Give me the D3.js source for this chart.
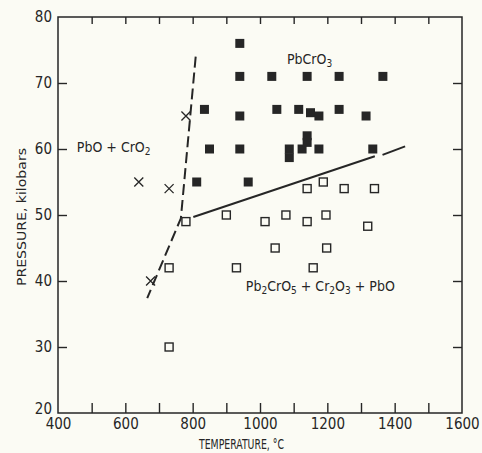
<!DOCTYPE html>
<html>
<head>
<meta charset="utf-8">
<script src="https://cdn.jsdelivr.net/npm/d3@7"></script>
<style>
  body { margin: 0; background: #fbfbf4; }
  svg { display: block; }
  text { font-family: "DejaVu Sans Condensed", "Liberation Sans Narrow", "DejaVu Sans", sans-serif; fill: #262626; }
</style>
</head>
<body>
<svg></svg>
<script>
const width = 482;
const height = 453;

const svg = d3.select("svg")
  .attr("width", width)
  .attr("height", height);

// [temperature °C, pressure kbar]
const pbcro3 = [
  [940, 76],
  [940, 71], [1035, 71], [1140, 71], [1235, 71], [1365, 71],
  [835, 66], [940, 65], [1050, 66], [1115, 66], [1150, 65.5], [1175, 65],
  [1235, 66], [1315, 65],
  [850, 60], [940, 60], [1087, 60], [1087, 58.7], [1125, 60], [1140, 62],
  [1140, 61], [1175, 60], [1335, 60],
  [812, 55], [965, 55]
];

const decomposed = [
  [730, 30], [730, 42], [780, 49], [900, 50], [930, 42], [1015, 49],
  [1045, 45], [1077, 50], [1140, 49], [1140, 54], [1188, 55], [1196, 50],
  [1198, 45], [1158, 42], [1250, 54], [1340, 54], [1320, 48.3]
];

const pboCro2 = [
  [640, 55], [730, 54], [780, 65], [675, 40]
];

const dashedBoundary = [[809, 74], [765, 49.5], [665, 37.4]];
const solidBoundary = [[802, 49.7], [1341, 58.9]];
const solidTail = [[1364, 59.1], [1431, 60.4]];

const xLabelTicks = [400, 600, 800, 1000, 1200, 1400, 1600];
const xMinorTicks = [500, 600, 700, 800, 900, 1000, 1100, 1200, 1300, 1400, 1500];
const yLabelTicks = [20, 30, 40, 50, 60, 70, 80];
const yMinorTicks = [30, 40, 50, 60, 70];

// text pieces: [string, isSubscript]
const phaseLabels = [
  { t: 1080, p: 72.9, parts: [["PbCrO", 0], ["3", 1]] },
  { t: 456, p: 59.6, parts: [["PbO + CrO", 0], ["2", 1]] },
  { t: 958, p: 38.5, parts: [["Pb", 0], ["2", 1], ["CrO", 0], ["5", 1], [" + Cr", 0], ["2", 1], ["O", 0], ["3", 1], [" + PbO", 0]] }
];

const x = d3.scaleLinear().domain([400, 1600]).range([58, 462]);
const y = d3.scaleLinear().domain([20, 80]).range([413, 17]);

const ink = "#262626";

// frame
svg.append("rect")
  .attr("x", x(400))
  .attr("y", y(80))
  .attr("width", x(1600) - x(400))
  .attr("height", y(20) - y(80))
  .attr("fill", "none")
  .attr("stroke", ink)
  .attr("stroke-width", 1.5);

// inward ticks on all four sides
const tickGroups = [
  { axis: d3.axisBottom(x).tickValues(xMinorTicks).tickSize(-10), at: `translate(0,${y(20)})` },
  { axis: d3.axisTop(x).tickValues(xMinorTicks).tickSize(-7), at: `translate(0,${y(80)})` },
  { axis: d3.axisLeft(y).tickValues(yMinorTicks).tickSize(-9), at: `translate(${x(400)},0)` },
  { axis: d3.axisRight(y).tickValues(yMinorTicks).tickSize(-9), at: `translate(${x(1600)},0)` }
];

tickGroups.forEach(g => {
  const sel = svg.append("g")
    .attr("transform", g.at)
    .call(g.axis.tickFormat(""));
  sel.select(".domain").remove();
  sel.selectAll("line").attr("stroke", ink).attr("stroke-width", 1.4);
});

// tick labels
const xAxis = svg.append("g")
  .attr("transform", `translate(0,${y(20)})`)
  .call(d3.axisBottom(x).tickValues(xLabelTicks).tickSize(0).tickPadding(5).tickFormat(d3.format("d")));
xAxis.select(".domain").remove();
xAxis.selectAll("text").attr("font-size", 15).style("fill", ink);

const yAxis = svg.append("g")
  .attr("transform", `translate(${x(400)},0)`)
  .call(d3.axisLeft(y).tickValues(yLabelTicks).tickSize(0).tickPadding(6));
yAxis.select(".domain").remove();
yAxis.selectAll("text").attr("font-size", 15).style("fill", ink);
// the bottom "20" sits a little above its tick so it clears "400"
yAxis.selectAll("text").filter(d => d === 20).attr("dy", "0.05em");

// axis titles
svg.append("text")
  .attr("x", 199)
  .attr("y", 449)
  .attr("font-size", 14)
  .attr("textLength", 85)
  .attr("lengthAdjust", "spacingAndGlyphs")
  .text("TEMPERATURE, °C");

svg.append("text")
  .attr("transform", `translate(26,${(y(20) + y(80)) / 2 + 2}) rotate(-90)`)
  .attr("text-anchor", "middle")
  .attr("font-size", 13)
  .attr("textLength", 138)
  .attr("lengthAdjust", "spacingAndGlyphs")
  .text("PRESSURE, kilobars");

// phase boundaries
const line = d3.line().x(d => x(d[0])).y(d => y(d[1]));

svg.append("path")
  .attr("d", line(dashedBoundary))
  .attr("fill", "none")
  .attr("stroke", ink)
  .attr("stroke-width", 2)
  .attr("stroke-dasharray", "11 5");

[solidBoundary, solidTail].forEach(seg => {
  svg.append("path")
    .attr("d", line(seg))
    .attr("fill", "none")
    .attr("stroke", ink)
    .attr("stroke-width", 2);
});

// markers
const s = 9;

svg.append("g")
  .selectAll("rect")
  .data(decomposed)
  .join("rect")
  .attr("x", d => x(d[0]) - (s - 1) / 2)
  .attr("y", d => y(d[1]) - (s - 1) / 2)
  .attr("width", s - 1)
  .attr("height", s - 1)
  .attr("fill", "#fbfbf4")
  .attr("stroke", ink)
  .attr("stroke-width", 1.4);

svg.append("g")
  .selectAll("rect")
  .data(pbcro3)
  .join("rect")
  .attr("x", d => x(d[0]) - s / 2)
  .attr("y", d => y(d[1]) - s / 2)
  .attr("width", s)
  .attr("height", s)
  .attr("fill", ink);

svg.append("g")
  .selectAll("path")
  .data(pboCro2)
  .join("path")
  .attr("d", d => {
    const cx = x(d[0]), cy = y(d[1]), r = 4.5;
    return `M${cx - r},${cy - r}L${cx + r},${cy + r}M${cx - r},${cy + r}L${cx + r},${cy - r}`;
  })
  .attr("stroke", ink)
  .attr("stroke-width", 1.3)
  .attr("fill", "none");

// phase field labels
phaseLabels.forEach(l => {
  const t = svg.append("text")
    .attr("x", x(l.t))
    .attr("y", y(l.p))
    .attr("font-size", 14);

  let prevSub = false;
  l.parts.forEach(([str, sub]) => {
    const isSub = sub === 1;
    const dy = isSub && !prevSub ? 3 : (!isSub && prevSub ? -3 : 0);
    t.append("tspan")
      .attr("font-size", isSub ? 10 : 14)
      .attr("dy", dy)
      .text(str);
    prevSub = isSub;
  });
});
</script>
</body>
</html>
